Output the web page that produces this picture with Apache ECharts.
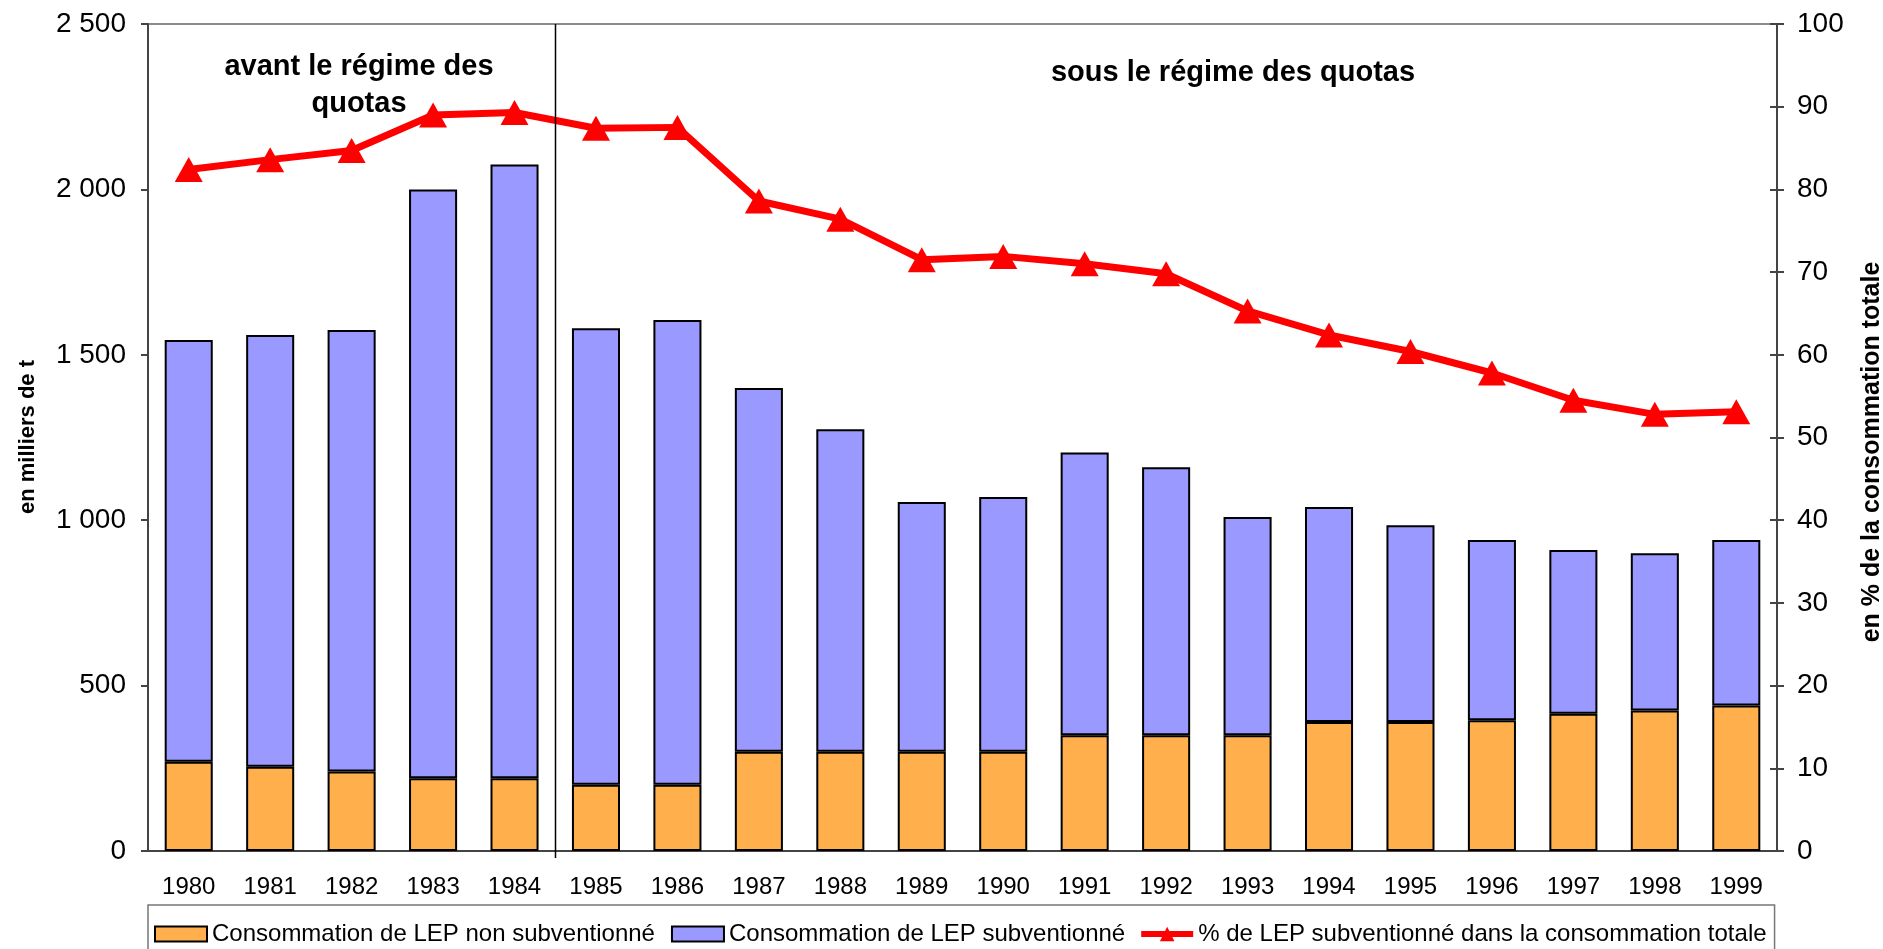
<!DOCTYPE html>
<html>
<head>
<meta charset="utf-8">
<script src="https://cdn.jsdelivr.net/npm/echarts@6/dist/echarts.min.js"></script>
<style>
  html, body { margin: 0; padding: 0; background: #fff; }
  #chart { width: 1883px; height: 949px; }
</style>
</head>
<body>
<div id="chart"></div>
<script>
  const years = ['1980', '1981', '1982', '1983', '1984', '1985', '1986', '1987', '1988', '1989',
    '1990', '1991', '1992', '1993', '1994', '1995', '1996', '1997', '1998', '1999'];
  // en milliers de t
  const nonSubsidized = [270, 255, 240, 220, 220, 200, 200, 300, 300, 300,
    300, 350, 350, 350, 390, 390, 395, 415, 425, 440];
  const subsidized = [1275, 1305, 1335, 1780, 1855, 1380, 1405, 1100, 975, 755,
    770, 855, 810, 660, 650, 595, 545, 495, 475, 500];
  // % de LEP subventionné
  const sharePct = [82.4, 83.6, 84.7, 89.0, 89.3, 87.4, 87.5, 78.6, 76.4, 71.5,
    71.9, 71.0, 69.8, 65.3, 62.4, 60.4, 57.8, 54.5, 52.8, 53.1];
  const seriesNames = [
    'Consommation de LEP non subventionné',
    'Consommation de LEP subventionné',
    '% de LEP subventionné dans la consommation totale'
  ];

  const font = 'Liberation Sans, Arial, sans-serif';
  const axisColor = '#444';
  // thick line with a triangle, like the legend key of the reference
  const lineIcon = 'path://M0,4H50V10H0Z M25,0L32,14H18Z';

  const chart = echarts.init(document.getElementById('chart'));

  const option = {
    animation: false,
    textStyle: { fontFamily: font },
    grid: {
      left: 148, right: 106, top: 24, bottom: 98,
      outerBoundsMode: 'none',
      show: true, borderColor: '#8a8a8a', borderWidth: 2
    },
    legend: {
      data: [
        { name: seriesNames[0], icon: 'rect' },
        { name: seriesNames[1], icon: 'rect' },
        { name: seriesNames[2], icon: lineIcon }
      ],
      left: 148,
      top: 905,
      padding: [17, 8, 20, 6],
      itemGap: 16,
      itemWidth: 52,
      itemHeight: 15,
      borderColor: '#777',
      borderWidth: 1.5,
      textStyle: { fontSize: 24, color: '#000', fontFamily: font }
    },
    xAxis: {
      type: 'category',
      data: years,
      axisLine: { lineStyle: { color: axisColor, width: 2 } },
      axisTick: { alignWithLabel: false, length: 7, lineStyle: { color: axisColor, width: 2 } },
      axisLabel: { fontSize: 24, color: '#000', margin: 24 }
    },
    yAxis: [{
      type: 'value',
      min: 0, max: 2500, interval: 500,
      axisLine: { show: true, lineStyle: { color: axisColor, width: 2 } },
      axisTick: { show: true, length: 7, lineStyle: { color: axisColor, width: 2 } },
      splitLine: { show: false },
      axisLabel: {
        fontSize: 28, color: '#000', margin: 22,
        formatter: v => String(v).replace(/\B(?=(\d{3})+(?!\d))/g, ' ')
      }
    }, {
      type: 'value',
      position: 'right',
      min: 0, max: 100, interval: 10,
      axisLine: { show: true, lineStyle: { color: axisColor, width: 2 } },
      axisTick: { show: true, length: 7, lineStyle: { color: axisColor, width: 2 } },
      splitLine: { show: false },
      axisLabel: { fontSize: 28, color: '#000', margin: 20 }
    }, {
      // inner half of the cross ticks on the right axis
      type: 'value',
      position: 'right',
      min: 0, max: 100, interval: 10,
      axisLine: { show: false },
      axisTick: { show: true, inside: true, length: 7, lineStyle: { color: axisColor, width: 2 } },
      axisLabel: { show: false },
      splitLine: { show: false }
    }],
    series: [{
      name: seriesNames[0],
      type: 'bar',
      stack: 'lep',
      yAxisIndex: 0,
      barWidth: '59%',
      data: nonSubsidized,
      itemStyle: { color: '#FFB04C', borderColor: '#000', borderWidth: 2 }
    }, {
      name: seriesNames[1],
      type: 'bar',
      stack: 'lep',
      yAxisIndex: 0,
      data: subsidized,
      itemStyle: { color: '#9999FF', borderColor: '#000', borderWidth: 2 }
    }, {
      name: seriesNames[2],
      type: 'line',
      yAxisIndex: 1,
      data: sharePct,
      symbol: 'triangle',
      symbolSize: [28, 25],
      lineStyle: { color: '#FF0000', width: 7 },
      itemStyle: { color: '#FF0000' },
      z: 5
    }]
  };
  chart.setOption(option);

  // vertical separator between 1984 and 1985, placed through the axes
  const xa = chart.convertToPixel({ xAxisIndex: 0 }, '1984');
  const xb = chart.convertToPixel({ xAxisIndex: 0 }, '1985');
  const sepX = Math.round((xa + xb) / 2) + 0.5;
  const yTop = chart.convertToPixel({ yAxisIndex: 0 }, 2500);
  const yBot = chart.convertToPixel({ yAxisIndex: 0 }, 0);

  const annStyle = { fontSize: 29, fontWeight: 'bold', fontFamily: font, fill: '#000', textAlign: 'center', textVerticalAlign: 'middle' };
  const titleStyle = { fontWeight: 'bold', fontFamily: font, fill: '#000', textAlign: 'center', textVerticalAlign: 'middle' };
  chart.setOption({
    graphic: [{
      type: 'line',
      z: 10,
      shape: { x1: sepX, y1: yTop, x2: sepX, y2: yBot + 7 },
      style: { stroke: '#000', lineWidth: 1.5 }
    }, {
      type: 'text', z: 10, x: 359, y: 67,
      style: Object.assign({ text: 'avant le régime des' }, annStyle)
    }, {
      type: 'text', z: 10, x: 359, y: 104,
      style: Object.assign({ text: 'quotas' }, annStyle)
    }, {
      type: 'text', z: 10, x: 1233, y: 73,
      style: Object.assign({ text: 'sous le régime des quotas' }, annStyle)
    }, {
      type: 'text', z: 10, x: 28, y: 437, rotation: Math.PI / 2,
      style: Object.assign({ text: 'en milliers de t', fontSize: 22 }, titleStyle)
    }, {
      type: 'text', z: 10, x: 1872, y: 452, rotation: Math.PI / 2,
      style: Object.assign({ text: 'en % de la consommation totale', fontSize: 25 }, titleStyle)
    }]
  });
</script>
</body>
</html>
